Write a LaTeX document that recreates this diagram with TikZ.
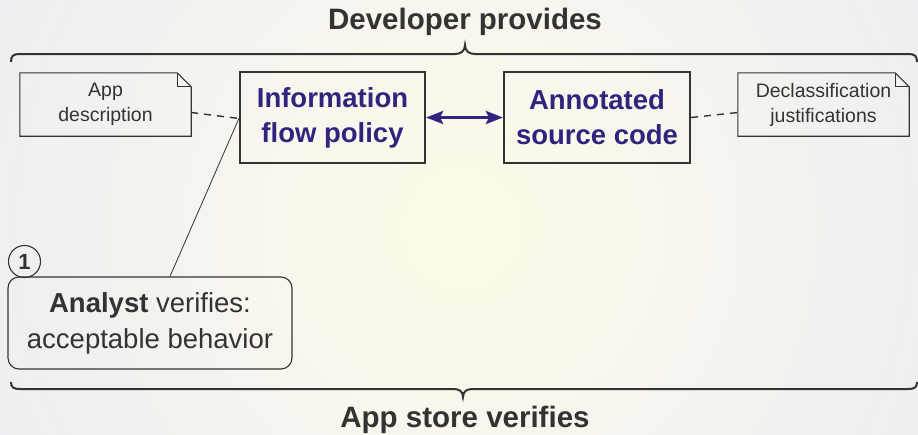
\documentclass[tikz,border=0pt]{standalone}
\usepackage{fontspec}
\setmainfont{Liberation Sans}
\usetikzlibrary{arrows.meta}
\definecolor{ink}{HTML}{333333}
\definecolor{purp}{HTML}{30247E}
\definecolor{bgin}{HTML}{FEFBEA}
\definecolor{bgout}{HTML}{EDECF2}
\tikzset{
  mainbox/.style={draw=ink, line width=2.2pt, minimum width=185pt, minimum height=91pt, align=center, inner sep=0pt,
    text=purp, font=\fontsize{27.5}{35}\selectfont\bfseries},
  notebox/.style={minimum width=171pt, minimum height=63pt, align=center, inner sep=0pt,
    text=ink, font=\fontsize{19.5}{25}\selectfont},
  notedraw/.style={draw=ink, line width=1.1pt, line join=miter},
  analystbox/.style={draw=ink, line width=1.1pt, rounded corners=11pt, minimum width=284pt, minimum height=92pt,
    align=center, inner sep=0pt, text=ink, font=\fontsize{27.5}{36}\selectfont},
  numcirc/.style={draw=ink, line width=1.1pt, circle, minimum size=32pt, inner sep=0pt, text=ink,
    font=\fontsize{22}{24}\selectfont\bfseries},
  bracestyle/.style={draw=ink, line width=2pt},
  dashconn/.style={draw=ink, line width=1.4pt, dash pattern=on 7pt off 6pt},
  thinconn/.style={draw=ink, line width=0.8pt},
  biarrow/.style={draw=purp, line width=3pt, {Stealth[length=17pt,width=13pt,inset=3pt]}-{Stealth[length=17pt,width=13pt,inset=3pt]}},
  titletext/.style={text=ink, anchor=base, inner sep=0pt, font=\fontsize{29.5}{32}\selectfont\bfseries}
}
\begin{document}
\begin{tikzpicture}[x=1pt,y=-1pt]
\useasboundingbox (0,0) rectangle (918,434);
\begin{scope}
  \clip (0,0) rectangle (918,434);
  \shade[inner color=bgin, outer color=bgout] (-98,-332) rectangle (1022,788);
\end{scope}

\node[titletext] (devtitle) at (465,29) {Developer provides};
\node[titletext] (storetitle) at (465,427) {App store verifies};

% braces
\draw[bracestyle] (11,62) .. controls (11,56) and (13,54) .. (20,54) -- (455,54)
  .. controls (461,54) and (465,51) .. (465,45) .. controls (465,51) and (469,54) .. (475,54)
  -- (908,54) .. controls (915,54) and (917,56) .. (917,62);
\draw[bracestyle] (11,382) .. controls (11,387) and (13,389) .. (20,389) -- (453,389)
  .. controls (459,389) and (463,391) .. (463,397) .. controls (463,391) and (467,389) .. (473,389)
  -- (908,389) .. controls (915,389) and (917,387) .. (917,382);

\node[mainbox] (info) at (332.5,117.5) {Information\\flow policy};
\node[mainbox, minimum width=186pt] (annot) at (597,117.5) {Annotated\\source code};

\node[notebox] (appdesc) at (105.5,104.5) {App\\description};
\node[notebox] (decl) at (823.5,104.5) {Declassification\\justifications};
\foreach \n in {appdesc,decl}{
  \draw[notedraw] (\n.north west) -- ([xshift=-14pt]\n.north east) -- ([yshift=-14pt]\n.north east)
    -- (\n.south east) -- (\n.south west) -- cycle;
  \draw[notedraw] ([xshift=-14pt]\n.north east) |- ([yshift=-14pt]\n.north east);
}

\node[analystbox] (analyst) at (150,323) {\textbf{Analyst} verifies:\\acceptable behavior};
\node[numcirc] (one) at (24.5,261.5) {1};

\draw[biarrow] (info.east) -- (annot.west);
\draw[dashconn] ([yshift=-8pt]appdesc.east) -- ([yshift=-1pt]info.west);
\draw[dashconn] (annot.east) -- ([yshift=-8pt]decl.west);
\draw[thinconn] ([yshift=-1pt]info.west) -- ([xshift=20pt]analyst.north);
\end{tikzpicture}
\end{document}
